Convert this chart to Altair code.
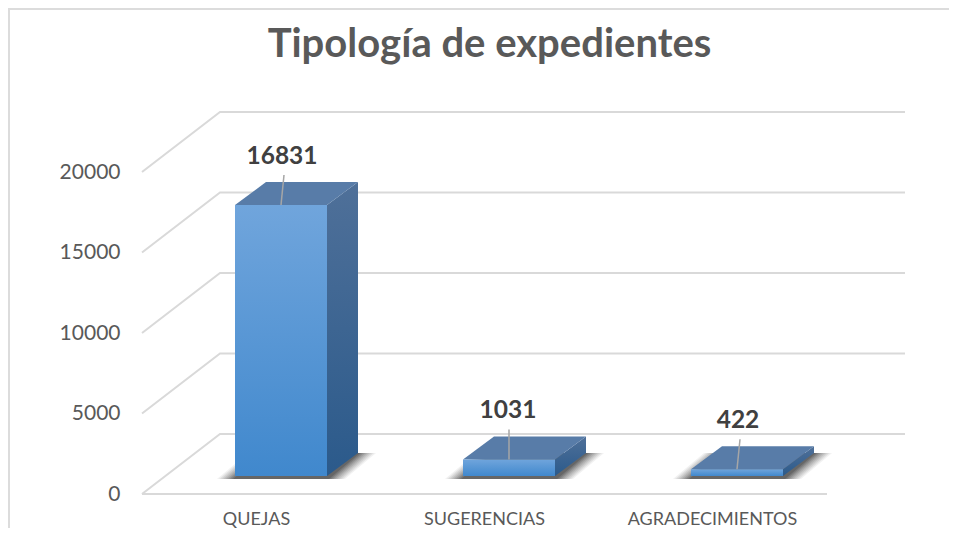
import altair as alt
import pandas as pd

categories = ["QUEJAS", "SUGERENCIAS", "AGRADECIMIENTOS"]
values = [16831, 1031, 422]
ticks = [0, 5000, 10000, 15000, 20000]
title = "Tipología de expedientes"

W, H = 941, 520
PX_X = 228.0      # pixels per category step
PX_Y = 0.0161     # pixels per unit of value
ORIGIN_X = 273.0  # first category centre, inside the plot
ORIGIN_Y = 486.0  # value 0 on the front plane, inside the plot
dxu = lambda p: p / PX_X
dyu = lambda p: p / PX_Y
xs = alt.Scale(domain=[-ORIGIN_X / PX_X, (W - ORIGIN_X) / PX_X], nice=False, zero=False)
ys = alt.Scale(domain=[(ORIGIN_Y - H) / PX_Y, ORIGIN_Y / PX_Y], nice=False, zero=False)
y_axis = alt.Axis(values=ticks, ticks=False, domain=False, grid=False, offset=-112, title=None,
                  labelFont="Lato", labelFontSize=21, labelColor="#595959",
                  labelPadding=0, format="d")
X = lambda f: alt.X(f"{f}:Q", scale=xs, axis=None)
Y = lambda f: alt.Y(f"{f}:Q", scale=ys, axis=y_axis)

HALF = dxu(46)
DEPTH_X, DEPTH_Y = dxu(31), dyu(23)
BASE = dyu(18)
WALL_X, WALL_Y = dxu(78), dyu(60)
GRID_L, GRID_R = dxu(-139), dxu(546)


def grad(top, bottom):
    return alt.Gradient(gradient="linear", x1=0, x2=0, y1=0, y2=1,
                        stops=[alt.GradientStop(offset=0, color=top),
                               alt.GradientStop(offset=1, color=bottom)])


# frame
one = pd.DataFrame({"a": [0]})
frame = [
    alt.Chart(one).mark_rule(color="#dcdcdc", strokeWidth=2).encode(
        x=alt.value(1), y=alt.value(0), y2=alt.value(H)),
    alt.Chart(one).mark_rule(color="#dcdcdc", strokeWidth=2).encode(
        x=alt.value(0), x2=alt.value(W), y=alt.value(1)),
]

# walls and floor
grid_rows = []
for t in ticks:
    grid_rows += [
        {"g": t, "o": 0, "x": GRID_L, "y": t},
        {"g": t, "o": 1, "x": GRID_L + WALL_X, "y": t + WALL_Y},
        {"g": t, "o": 2, "x": GRID_R + WALL_X, "y": t + WALL_Y},
    ]
grid = alt.Chart(pd.DataFrame(grid_rows)).mark_line(color="#d9d9d9", strokeWidth=2).encode(
    x=X("x"), y=Y("y"), detail="g:N", order="o:Q")
front = alt.Chart(pd.DataFrame({"x": [GRID_L], "x2": [GRID_R], "y": [0]})).mark_rule(
    color="#d9d9d9", strokeWidth=2).encode(x=X("x"), x2="x2:Q", y=Y("y"))

shadow_rows, side_rows, top_rows, face_rows, lead_rows, label_rows, cat_rows = [], [], [], [], [], [], []
SHADOW_LEVELS = [(18, .06), (16, .07), (14, .08), (12, .09), (10, .10), (8, .12), (6, .14), (4, .17), (2, .20)]
LABEL_NUDGE = [1, -1, 1]
for i, (c, v) in enumerate(zip(categories, values)):
    l, r = i - HALF, i + HALF
    for k, (grow, op) in enumerate(SHADOW_LEVELS):
        g = dxu(grow)
        shadow_rows += [
            {"g": f"{i}-{k}", "op": op, "y": BASE - dyu(3), "x": l - g, "x2": r + g},
            {"g": f"{i}-{k}", "op": op, "y": BASE + DEPTH_Y, "x": l - g + DEPTH_X, "x2": r + g + DEPTH_X},
        ]
    top = BASE + v
    side_rows += [
        {"g": i, "x": r, "y": top, "y2": BASE},
        {"g": i, "x": r + DEPTH_X, "y": top + DEPTH_Y, "y2": BASE + DEPTH_Y},
    ]
    top_rows += [
        {"g": i, "y": top, "x": l, "x2": r},
        {"g": i, "y": top + DEPTH_Y, "x": l + DEPTH_X, "x2": r + DEPTH_X},
    ]
    face_rows.append({"x": l, "x2": r, "y": top, "y2": BASE})
    lean = dxu(3) if i != 1 else 0
    lead_rows.append({"x": float(i), "x2": i + lean, "y": top, "y2": top + dyu(30)})
    label_rows.append({"x": i + dxu(LABEL_NUDGE[i]), "y": top + dyu(48), "t": str(v)})
    cat_rows.append({"x": i + dxu(-24.5), "y": -dyu(26), "t": c})

shadow = alt.Chart(pd.DataFrame(shadow_rows)).mark_area(orient="horizontal", color="#1f1f1f").encode(
    y=Y("y"), x=X("x"), x2="x2:Q", detail="g:N", opacity=alt.Opacity("op:Q", scale=None, legend=None))
side = alt.Chart(pd.DataFrame(side_rows)).mark_area(fill=grad("#4f7099", "#2b5a8b"), line=False).encode(
    x=X("x"), y=Y("y"), y2="y2:Q", detail="g:N")
topf = alt.Chart(pd.DataFrame(top_rows)).mark_area(orient="horizontal", color="#587ca8").encode(
    y=Y("y"), x=X("x"), x2="x2:Q", detail="g:N")
face = alt.Chart(pd.DataFrame(face_rows)).mark_rect(fill=grad("#70a5dc", "#4088cd")).encode(
    x=X("x"), x2="x2:Q", y=Y("y"), y2="y2:Q")
lead = alt.Chart(pd.DataFrame(lead_rows)).mark_rule(color="#a6a6a6", strokeWidth=1.5).encode(
    x=X("x"), x2="x2:Q", y=Y("y"), y2="y2:Q")
labels = alt.Chart(pd.DataFrame(label_rows)).mark_text(
    font="Lato", fontSize=24.5, fontWeight="bold", color="#404040").encode(x=X("x"), y=Y("y"), text="t:N")
cats = alt.Chart(pd.DataFrame(cat_rows)).mark_text(
    font="Lato", fontSize=18, color="#595959").encode(x=X("x"), y=Y("y"), text="t:N")

chart = alt.layer(
    *frame, grid, front, shadow, side, topf, face, lead, labels, cats).properties(
    width=W, height=H, padding=0, autosize=alt.AutoSizeParams(type="none"), background="white",
    title=alt.TitleParams(title, font="Lato", fontSize=40, fontWeight="bold", color="#595959",
                          anchor="middle", offset=-58, dx=11),
).configure_view(stroke=None)

chart.save("out.html", embed_options={"renderer": "svg", "actions": False})
